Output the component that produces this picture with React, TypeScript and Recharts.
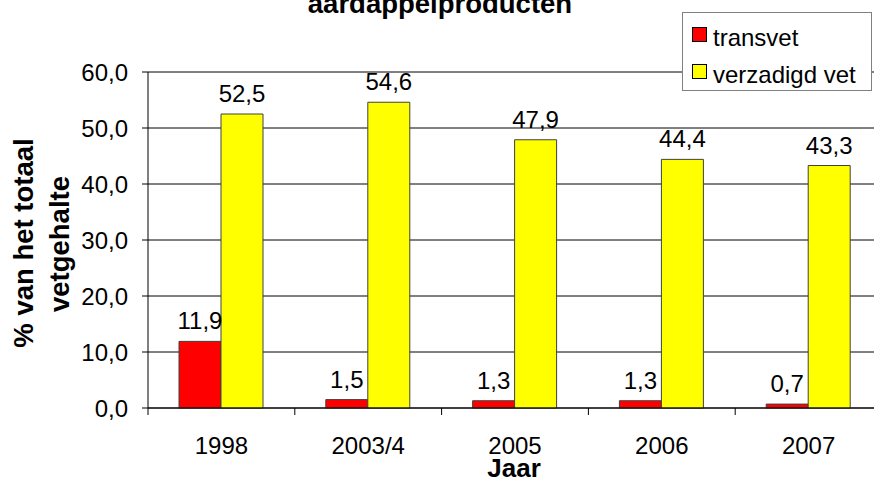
import React from 'react';
import { BarChart, Bar, XAxis, YAxis, CartesianGrid, LabelList } from 'recharts';

const years = ['1998', '2003/4', '2005', '2006', '2007'];
const transvet = [11.9, 1.5, 1.3, 1.3, 0.7];
const verzadigdVet = [52.5, 54.6, 47.9, 44.4, 43.3];
const yTicks = [0, 10, 20, 30, 40, 50, 60];

const series = [
    { key: 'transvet', name: 'transvet', color: '#ff0000' },
    { key: 'verzadigd', name: 'verzadigd vet', color: '#ffff00' },
];

const FONT = '"Liberation Sans", Arial, sans-serif';

const data = years.map((year, i) => ({
    year,
    transvet: transvet[i],
    verzadigd: verzadigdVet[i],
}));

const fmt = (v: number) => v.toFixed(1).replace('.', ',');

// category ticks sit on the band boundaries, labels in the middle
const YearTick = (props: any) => {
    const { x, y, payload, width, visibleTicksCount, index } = props;
    const band = width / visibleTicksCount;
    return (
        <g>
            <line x1={x - band / 2} x2={x - band / 2} y1={y} y2={y + 7} stroke="#000" />
            {index === visibleTicksCount - 1 && (
                <line x1={x + band / 2} x2={x + band / 2} y1={y} y2={y + 7} stroke="#000" />
            )}
            <text x={x} y={y + 46} textAnchor="middle" fontSize={24} fontFamily={FONT} fill="#000">
                {payload.value}
            </text>
        </g>
    );
};

const App: React.FC = () => {
    return (
        <div style={{ position: 'absolute', left: 0, top: 0, width: 874, height: 481, overflow: 'hidden', background: '#fff' }}>
            <BarChart
                width={890}
                height={481}
                data={data}
                margin={{ top: 72, right: 8, left: 0, bottom: 0 }}
                barGap={0}
                barSize={42}
            >
                <CartesianGrid vertical={false} stroke="#000" />
                <XAxis
                    dataKey="year"
                    height={73}
                    stroke="#000"
                    tickLine={false}
                    tickSize={0}
                    tickMargin={0}
                    interval={0}
                    tick={<YearTick />}
                />
                <YAxis
                    width={148}
                    domain={[0, 60]}
                    ticks={yTicks}
                    tickFormatter={fmt}
                    stroke="#000"
                    tickSize={6}
                    tickMargin={14}
                    tick={{ fontSize: 24, fontFamily: FONT, fill: '#000' }}
                />
                {series.map(s => (
                    <Bar
                        key={s.key}
                        dataKey={s.key}
                        name={s.name}
                        fill={s.color}
                        stroke="#404040"
                        strokeWidth={1}
                        isAnimationActive={false}
                    >
                        <LabelList
                            dataKey={s.key}
                            position="top"
                            offset={12}
                            formatter={(v: any) => fmt(Number(v))}
                            style={{ fontSize: 24, fontFamily: FONT, fill: '#000' }}
                        />
                    </Bar>
                ))}
            </BarChart>
            <svg width={874} height={481} style={{ position: 'absolute', left: 0, top: 0, pointerEvents: 'none' }}>
                <text x={440} y={13} textAnchor="middle" fontSize={27.5} fontWeight="bold" fontFamily={FONT}>
                    aardappelproducten
                </text>
                <text x={514} y={477} textAnchor="middle" fontSize={26} fontWeight="bold" fontFamily={FONT}>
                    Jaar
                </text>
                <text transform="translate(33,243) rotate(-90)" textAnchor="middle" fontSize={27.5} fontWeight="bold" fontFamily={FONT}>
                    % van het totaal
                </text>
                <text transform="translate(69,244) rotate(-90)" textAnchor="middle" fontSize={27.5} fontWeight="bold" fontFamily={FONT}>
                    vetgehalte
                </text>
                {/* legend */}
                <rect x={682.5} y={12.5} width={189} height={78} fill="#fff" stroke="#808080" />
                {series.map((s, i) => (
                    <g key={s.key}>
                        <rect x={692.5} y={27.5 + i * 37} width={14} height={14} fill={s.color} stroke="#000" />
                        <text x={713} y={46 + i * 37} fontSize={24} fontFamily={FONT} fill="#000">
                            {s.name}
                        </text>
                    </g>
                ))}
            </svg>
        </div>
    );
};

export default App;
